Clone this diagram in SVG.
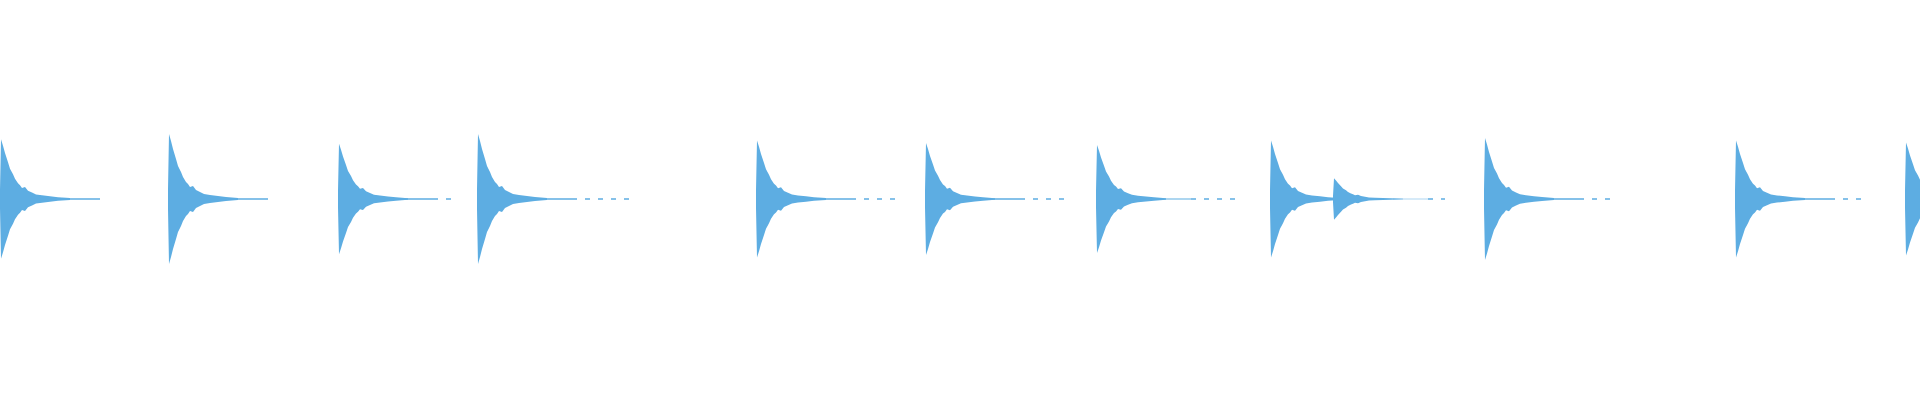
<svg xmlns="http://www.w3.org/2000/svg" width="1920" height="400" viewBox="0 0 1920 400">
<defs>
<style>.w{fill:#5dade2}.t{stroke:#5dade2;stroke-width:1.5;stroke-dasharray:5 8;fill:none}.s{stroke:#5dade2;stroke-width:1.5;fill:none}</style>
<g id="hit">
<polygon class="w" points="0,-10 1,-65 3,-58 5,-50 8,-40 10,-33 13,-27 15,-22 18,-17 20,-15 22,-12 25,-13 28,-9 32,-7 36,-5 42,-4 50,-3 58,-2 70,-1 70,1 58,2 50,3 42,4 36,5 32,7 28,9 25,13 22,12 20,15 18,17 15,22 13,27 10,33 8,40 5,50 3,58 1,65 0,10"/>
<line class="s" x1="60" y1="0" x2="95" y2="0"/>
</g>
</defs>
<g id="waveform" transform="translate(0,199)">
<g id="h1"><use href="#hit" transform="translate(0,0) scale(1,0.92)"/><line class="t" x1="95" y1="0" x2="103" y2="0"/></g>
<g id="h2"><use href="#hit" transform="translate(168,0)"/><line class="t" x1="263" y1="0" x2="272" y2="0"/></g>
<g id="h3"><use href="#hit" transform="translate(338,0) scale(1,0.85)"/><line class="t" x1="433" y1="0" x2="455" y2="0"/></g>
<g id="h4"><use href="#hit" transform="translate(477,0)"/><line class="t" x1="572" y1="0" x2="633" y2="0"/></g>
<g id="h5"><use href="#hit" transform="translate(756,0) scale(1,0.9)"/><line class="t" x1="851" y1="0" x2="895" y2="0"/></g>
<g id="h6"><use href="#hit" transform="translate(925,0) scale(1,0.86)"/><line class="t" x1="1020" y1="0" x2="1068" y2="0"/></g>
<g id="h7"><use href="#hit" transform="translate(1096,0) scale(1,0.83)"/><line class="t" x1="1191" y1="0" x2="1240" y2="0"/></g>
<g id="h8"><use href="#hit" transform="translate(1270,0) scale(1,0.9)"/></g>
<g id="h9"><use href="#hit" transform="translate(1333,0) scale(1,0.32)"/><line class="t" x1="1428" y1="0" x2="1445" y2="0"/></g>
<g id="h10"><use href="#hit" transform="translate(1484,0) scale(1,0.94)"/><line class="t" x1="1579" y1="0" x2="1610" y2="0"/></g>
<g id="h11"><use href="#hit" transform="translate(1735,0) scale(1,0.9)"/><line class="t" x1="1830" y1="0" x2="1865" y2="0"/></g>
<g id="h12"><use href="#hit" transform="translate(1905,0) scale(1,0.87)"/></g>
</g>
</svg>
